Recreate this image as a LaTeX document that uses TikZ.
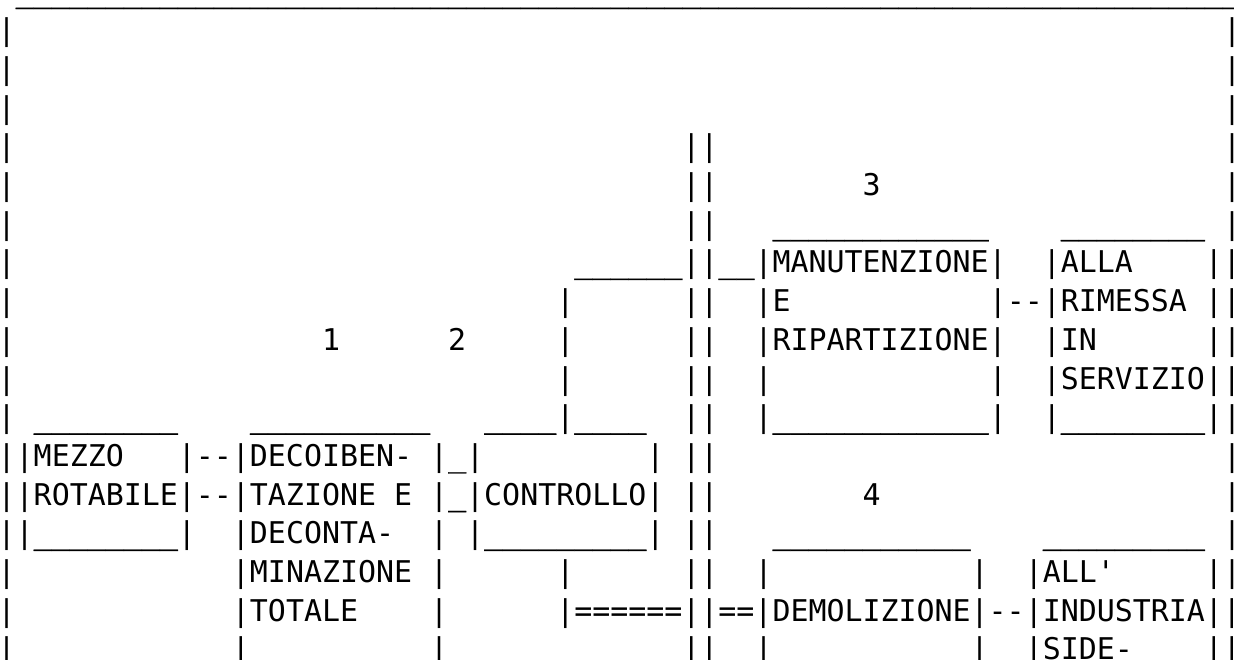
\documentclass[tikz,border=0pt]{standalone}
\usepackage{fontspec}
\setmonofont{DejaVu Sans Mono}
\newfontfamily\usfont{DejaVu Sans Mono}[FakeBold=1.2]
\newlength\cw
\ExplSyntaxOn
\cs_new:Npn \myrep #1#2 { \prg_replicate:nn {#1} {#2} }
\ExplSyntaxOff
\newcommand\gp[1]{\hspace*{#1\cw}}
\newcommand\us[1]{{\usfont\myrep{#1}{\_}}}
\newcommand\asciifont{\ttfamily\fontsize{29.93pt}{38.7pt}\selectfont}
\AtBeginDocument{\settowidth{\cw}{\asciifont M}}
\begin{document}
\begin{tikzpicture}[x=1pt,y=1pt,
  asciiline/.style={anchor=base west,inner sep=0pt,outer sep=0pt,font=\asciifont}]
\fill[white] (0,0) rectangle (1234,-660);
\useasboundingbox (0,0) rectangle (1234,-660);
\def\bx{-2.3}
\node[asciiline] (l0) at (\bx,{-(2+38.7*0)}) {\gp{1}\us{68}};
\node[asciiline] (l1) at (\bx,{-(2+38.7*1)}) {|\gp{67}|};
\node[asciiline] (l2) at (\bx,{-(2+38.7*2)}) {|\gp{67}|};
\node[asciiline] (l3) at (\bx,{-(2+38.7*3)}) {|\gp{67}|};
\node[asciiline] (l4) at (\bx,{-(2+38.7*4)}) {|\gp{37}||\gp{28}|};
\node[asciiline] (l5) at (\bx,{-(2+38.7*5)}) {|\gp{37}||\gp{8}3\gp{19}|};
\node[asciiline] (l6) at (\bx,{-(2+38.7*6)}) {|\gp{37}||\gp{3}\us{12}\gp{4}\us{8}\gp{1}|};
\node[asciiline] (l7) at (\bx,{-(2+38.7*7)}) {|\gp{31}\us{6}||\us{2}|MANUTENZIONE|\gp{2}|ALLA\gp{4}||};
\node[asciiline] (l8) at (\bx,{-(2+38.7*8)}) {|\gp{30}|\gp{6}||\gp{2}|E\gp{11}|--|RIMESSA\gp{1}||};
\node[asciiline] (l9) at (\bx,{-(2+38.7*9)}) {|\gp{17}1\gp{6}2\gp{5}|\gp{6}||\gp{2}|RIPARTIZIONE|\gp{2}|IN\gp{6}||};
\node[asciiline] (l10) at (\bx,{-(2+38.7*10)}) {|\gp{30}|\gp{6}||\gp{2}|\gp{12}|\gp{2}|SERVIZIO||};
\node[asciiline] (l11) at (\bx,{-(2+38.7*11)}) {|\gp{1}\us{8}\gp{4}\us{10}\gp{3}\us{4}|\us{4}\gp{2}||\gp{2}|\us{12}|\gp{2}|\us{8}||};
\node[asciiline] (l12) at (\bx,{-(2+38.7*12)}) {||MEZZO\gp{3}|--|DECOIBEN-\gp{1}|\us{1}|\gp{9}|\gp{1}||\gp{28}|};
\node[asciiline] (l13) at (\bx,{-(2+38.7*13)}) {||ROTABILE|--|TAZIONE\gp{1}E\gp{1}|\us{1}|CONTROLLO|\gp{1}||\gp{8}4\gp{19}|};
\node[asciiline] (l14) at (\bx,{-(2+38.7*14)}) {||\us{8}|\gp{2}|DECONTA-\gp{2}|\gp{1}|\us{9}|\gp{1}||\gp{3}\us{11}\gp{4}\us{9}\gp{1}|};
\node[asciiline] (l15) at (\bx,{-(2+38.7*15)}) {|\gp{12}|MINAZIONE\gp{1}|\gp{6}|\gp{6}||\gp{2}|\gp{11}|\gp{2}|ALL\textquotesingle\gp{5}||};
\node[asciiline] (l16) at (\bx,{-(2+38.7*16)}) {|\gp{12}|TOTALE\gp{4}|\gp{6}|======||==|DEMOLIZIONE|--|INDUSTRIA||};
\node[asciiline] (l17) at (\bx,{-(2+38.7*17)}) {|\gp{12}|\gp{10}|\gp{13}||\gp{2}|\gp{11}|\gp{2}|SIDE-\gp{4}||};
\end{tikzpicture}
\end{document}
